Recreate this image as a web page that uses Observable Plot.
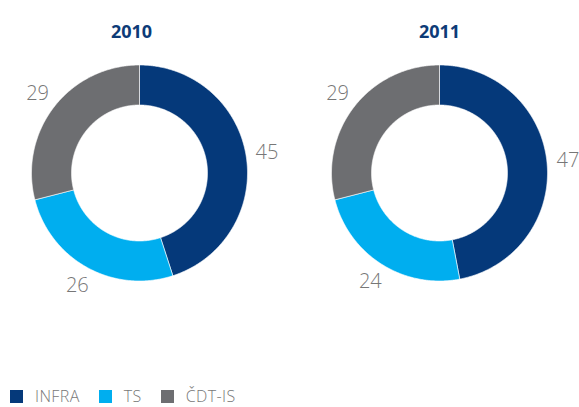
<!DOCTYPE html>
<html><head><meta charset="utf-8">
<script src="https://cdn.jsdelivr.net/npm/d3@7"></script>
<script src="https://cdn.jsdelivr.net/npm/@observablehq/plot@0.6"></script>
<style>
body{margin:0;background:#fff;font-family:"Open Sans",sans-serif;overflow:hidden;}
#chart > svg{display:block;}
.lg-swatch > svg{margin-right:12px !important;}
.lg-swatches-wrap .lg-swatch{margin-right:19px !important;}
.lg-swatches-wrap{min-height:18px !important;line-height:18px;}
</style></head><body><div id="chart"></div><script>
const years = ["2010", "2011"];
const categories = ["INFRA", "TS", "ČDT-IS"];
const values2010 = [45, 26, 29];
const values2011 = [47, 24, 29];
const colors = ["#05397a", "#00aeef", "#6d6e71"];

const seriesByYear = {"2010": values2010, "2011": values2011};
const outerR = 108, innerR = 68, labelR = 129;
const slices = [];
for (const year of years) {
  const vals = seriesByYear[year];
  const total = d3.sum(vals);
  let acc = 0;
  categories.forEach((cat, i) => {
    const a0 = acc / total * 2 * Math.PI;
    acc += vals[i];
    const a1 = acc / total * 2 * Math.PI;
    slices.push({year, cat, value: vals[i], a0, a1, mid: (a0 + a1) / 2});
  });
}
const pts = [];
for (const s of slices) {
  const key = s.year + "|" + s.cat;
  const n = Math.max(2, Math.ceil((s.a1 - s.a0) / 0.01));
  for (let k = 0; k <= n; k++) { const a = s.a0 + (s.a1 - s.a0) * k / n; pts.push({key, year: s.year, cat: s.cat, x: outerR * Math.sin(a), y: outerR * Math.cos(a)}); }
  for (let k = n; k >= 0; k--) { const a = s.a0 + (s.a1 - s.a0) * k / n; pts.push({key, year: s.year, cat: s.cat, x: innerR * Math.sin(a), y: innerR * Math.cos(a)}); }
  pts.push({key, year: s.year, cat: s.cat, x: outerR * Math.sin(s.a0), y: outerR * Math.cos(s.a0)});
}
const H = 387, cy = 172.5;
const plot = Plot.plot({
  width: 579, height: H,
  marginLeft: 19, marginRight: 20, marginTop: 0, marginBottom: 0,
  style: {fontFamily: "'Open Sans', sans-serif", background: "#fff"},
  fx: {domain: years, paddingInner: 0.2, paddingOuter: 0, axis: null},
  x: {domain: [-120, 120], axis: null},
  y: {domain: [-(H - cy), cy], axis: null},
  color: {domain: categories, range: colors},
  marks: [
    Plot.line(pts, {fx: "year", x: "x", y: "y", z: "key", fill: "cat", stroke: "#fff", strokeWidth: 0.6}),
    Plot.text(slices, {fx: "year", x: d => labelR * Math.sin(d.mid), y: d => labelR * Math.cos(d.mid), text: "value", fill: "#777", fontSize: 20, fontWeight: 300}),
    Plot.text(["2010"], {fx: d => d, frameAnchor: "top", dy: 25, dx: -8, text: d => d, fill: "#0d3b77", fontSize: 18, fontWeight: "bold"}),
    Plot.text(["2011"], {fx: d => d, frameAnchor: "top", dy: 25, text: d => d, fill: "#0d3b77", fontSize: 18, fontWeight: "bold"})
  ]
});
document.getElementById("chart").appendChild(plot);
const leg = plot.legend("color", {legend: "swatches", className: "lg", swatchSize: 13,
  style: {fontFamily: "'Open Sans', sans-serif", fontSize: "16px", fontWeight: 300, letterSpacing: "0.4px", color: "#777", marginLeft: "10px", marginBottom: "0", marginTop: "0"}});
document.getElementById("chart").appendChild(leg);
</script></body></html>
